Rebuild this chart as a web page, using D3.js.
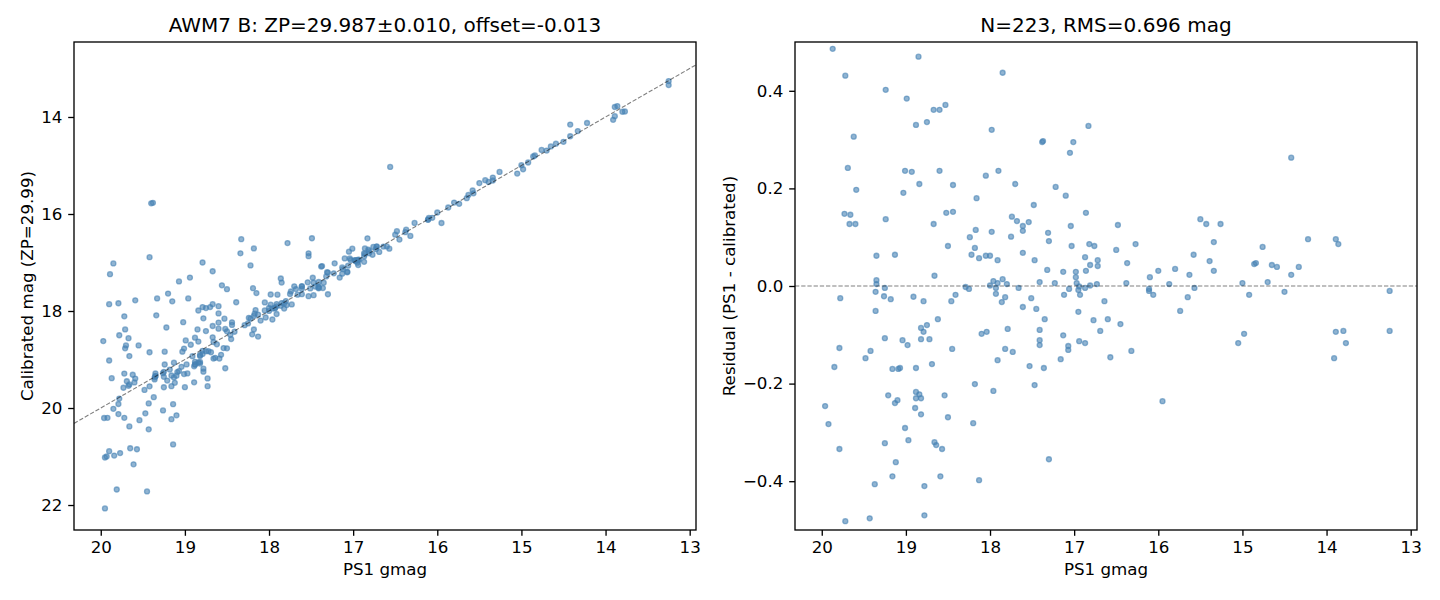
<!DOCTYPE html>
<html>
<head>
<meta charset="utf-8">
<script src="https://cdn.jsdelivr.net/npm/d3@7"></script>
<style>
  body { margin: 0; background: #fff; }
  text { font-family: "DejaVu Sans", sans-serif; fill: #000; }
</style>
</head>
<body>
<div id="chart"></div>
<script>
// Stars close to the zero-point fit: PS1 gmag and residual (PS1 - calibrated)
const inGmag = [
  19.87, 18.85, 19.72, 17.85, 19.24, 18.99, 18.67, 18.60, 18.53, 18.88, 18.75, 17.98, 19.62, 19.69,
  19.01, 18.93, 18.60, 17.90, 18.05, 19.59, 18.84, 18.44, 19.03, 18.16, 19.73, 19.66, 19.67, 19.60,
  19.24, 18.67, 18.52, 18.44, 18.17, 17.98, 18.24, 18.50, 18.18, 18.22, 18.13, 18.05, 18.00, 17.91,
  19.35, 19.13, 18.66, 19.35, 19.35, 19.25, 18.29, 18.00, 17.96, 17.93, 17.91, 17.85,
  18.25, 19.36, 19.26, 19.18, 19.78, 18.91, 18.79, 18.46, 18.41, 17.93, 17.86, 17.82, 19.36, 18.62,
  18.75, 18.82, 18.79, 18.82, 18.72, 19.25, 19.04, 18.98, 19.79, 19.42, 19.48, 18.45, 18.10, 18.04,
  17.82, 17.91, 19.85, 19.16, 19.09, 19.07, 18.88, 18.69, 18.18, 17.96, 19.21, 19.13, 19.10, 18.88,
  18.84, 18.88, 18.82, 18.54, 19.96, 19.92, 18.89, 18.82, 18.50, 18.20, 19.01, 18.97, 19.25, 18.66,
  18.64, 18.57, 19.79, 19.12, 19.16, 18.59, 18.13, 19.37, 18.78, 19.43, 19.72, 18.78,
  16.83, 17.38, 17.37, 17.01, 17.05, 17.70, 17.22, 17.10, 17.48, 16.86, 17.74, 17.68, 17.61, 17.61,
  17.54, 17.04, 16.48, 17.75, 17.31, 17.30, 17.03, 16.82, 16.76, 17.61, 16.50, 16.27, 15.50, 15.43,
  15.58, 15.39, 17.47, 16.87, 16.72, 16.72, 16.81, 16.37, 17.32, 17.13, 16.98, 16.86, 16.98, 16.97,
  17.80, 17.66, 17.41, 17.23, 17.06, 16.94, 16.81, 16.73, 16.38, 16.10, 16.00, 15.80, 15.63, 15.87,
  16.11, 15.57,
  17.51, 17.61, 17.45, 17.35, 17.79, 17.41, 17.41, 17.41, 17.73, 17.53, 17.36, 17.47, 17.30, 17.13,
  17.16, 17.07, 17.07, 17.12, 16.95, 16.93, 16.87, 16.95, 16.77, 16.64, 16.60, 16.69, 16.94, 16.87,
  16.45, 16.57, 16.32, 16.11, 16.06, 15.95, 15.74, 15.65,
  14.42, 15.26, 15.34, 14.76, 14.22, 13.89, 13.86, 15.34, 14.86, 14.84, 14.65, 14.59, 14.33, 14.42,
  15.00, 14.70, 13.25,
  14.92, 14.50, 14.98, 15.05, 13.89, 13.80, 13.77, 13.91, 13.25
];
const inResid = [
  0.486, 0.470, 0.431, 0.437, 0.402, 0.384, 0.361, 0.361, 0.371, 0.330, 0.336, 0.320, 0.306, 0.242,
  0.236, 0.234, 0.236, 0.236, 0.226, 0.197, 0.209, 0.207, 0.191, 0.180, 0.148, 0.146, 0.127, 0.127,
  0.137, 0.127, 0.150, 0.152, 0.115, 0.111, 0.100, 0.082, 0.078, 0.064, 0.057, 0.062, 0.062, 0.053,
  0.062, 0.064, 0.021, 0.012, 0.004, -0.004, -0.002, 0.001, 0.010, -0.004, 0.006, 0.014,
  -0.006, -0.012, -0.021, -0.027, -0.025, -0.022, -0.031, -0.031, -0.018, -0.016, -0.033, -0.023, -0.051, -0.068,
  -0.080, -0.086, -0.094, -0.109, -0.109, -0.107, -0.111, -0.121, -0.127, -0.133, -0.148, -0.129, -0.098, -0.094,
  -0.129, -0.152, -0.166, -0.170, -0.170, -0.168, -0.168, -0.160, -0.201, -0.215, -0.224, -0.240, -0.234, -0.217,
  -0.222, -0.230, -0.230, -0.224, -0.246, -0.283, -0.250, -0.263, -0.269, -0.281, -0.291, -0.316, -0.322, -0.320,
  -0.326, -0.334, -0.334, -0.361, -0.390, -0.390, -0.398, -0.406, -0.410, -0.476, -0.482, -0.470,
  0.328, 0.295, 0.297, 0.295, 0.273, 0.209, 0.203, 0.185, 0.166, 0.150, 0.142, 0.133, 0.123, 0.113,
  0.131, 0.123, 0.125, 0.101, 0.109, 0.092, 0.082, 0.086, 0.082, 0.068, 0.074, 0.086, 0.137, 0.127,
  0.064, 0.051, 0.053, 0.059, 0.053, 0.041, 0.043, 0.047, 0.033, 0.029, 0.029, 0.031, 0.018, 0.006,
  0.004, -0.004, 0.008, 0.006, -0.006, -0.001, 0.001, 0.004, 0.006, 0.018, 0.031, 0.035, 0.023, 0.004,
  -0.006, -0.004,
  -0.025, -0.043, -0.047, -0.068, -0.088, -0.090, -0.111, -0.121, -0.135, -0.164, -0.168, -0.203, -0.355, -0.101,
  -0.150, -0.123, -0.131, -0.018, -0.008, -0.018, -0.004, -0.053, -0.070, -0.031, -0.068, -0.092, -0.113, -0.117,
  -0.078, -0.146, -0.133, -0.010, -0.018, -0.236, -0.051, -0.023,
  0.263, 0.127, 0.090, 0.080, 0.096, 0.096, 0.086, 0.031, 0.045, 0.047, 0.043, 0.039, 0.039, 0.023,
  0.006, 0.008, -0.010,
  -0.018, -0.012, -0.098, -0.117, -0.094, -0.092, -0.117, -0.148, -0.092
];

// Stars far from the fit (off the residual panel): PS1 gmag and calibrated mag
const outGmag = [
  19.40, 19.38, 19.42, 19.85, 19.89, 18.79, 18.67, 19.07, 18.94, 18.56, 18.50, 19.20, 19.90, 19.79,
  19.59, 19.33, 19.15, 18.96, 18.39, 18.84, 18.79, 18.75, 18.70, 18.67, 18.60, 19.72, 19.34, 19.02,
  18.78, 18.60, 19.22, 19.71, 19.78, 19.67, 19.97, 19.70, 19.71, 19.55, 19.66, 19.42, 19.90,
  19.66, 19.54, 19.47, 19.43, 19.26, 19.14, 19.16, 19.10, 19.95, 19.93, 19.90, 19.84, 19.77, 19.65,
  19.57, 19.61, 19.81, 19.45, 19.95, 19.14, 19.00, 18.89, 18.73, 18.73, 18.52,
  18.33, 18.34, 18.18, 18.22, 17.78, 17.49, 17.53, 17.53, 18.19, 18.15, 17.86, 16.56
];
const outCal = [
  15.78, 15.77, 16.89, 17.02, 17.24, 17.00, 17.18, 17.39, 17.31, 17.47, 17.55, 17.64, 17.86, 17.84,
  17.78, 17.74, 17.80, 17.74, 17.82, 17.99, 17.92, 17.94, 17.92, 17.86, 17.90, 18.11, 18.09, 18.23,
  18.15, 18.05, 18.34, 18.38, 18.50, 18.56, 18.62, 18.71, 18.77, 18.71, 18.93, 18.85, 19.02,
  20.38, 20.25, 20.11, 20.44, 20.05, 19.92, 20.23, 20.15, 21.02, 21.00, 20.89, 20.98, 20.93, 20.83,
  20.85, 21.16, 21.68, 21.72, 22.07, 20.75, 19.57, 19.47, 19.55, 19.39, 19.18,
  16.52, 16.81, 16.71, 17.06, 16.60, 16.50, 16.81, 16.87, 17.53, 17.63, 17.33, 15.03
];

const xTicks = [20, 19, 18, 17, 16, 15, 14, 13];
const calTicks = [14, 16, 18, 20, 22];
const resTicks = [-0.4, -0.2, 0.0, 0.2, 0.4];

const titleLeft = "AWM7 B: ZP=29.987\u00b10.010, offset=-0.013";
const titleRight = "N=223, RMS=0.696 mag";

// combine both lists into one star table
const stars = inGmag.map((g, i) => ({ g: g, cal: g - inResid[i], res: inResid[i] }))
  .concat(outGmag.map((g, i) => ({ g: g, cal: outCal[i], res: g - outCal[i] })));

const width = 1440, height = 600;
const panels = [
  { left: 74, right: 696, key: "cal", domain: [12.454, 22.515], ticks: calTicks, fmt: d3.format("d"),
    title: titleLeft, ylabel: "Calibrated mag (ZP=29.99)", ylabelX: 33 },
  { left: 795, right: 1417, key: "res", domain: [-0.5, 0.5], ticks: resTicks, fmt: d3.format(".1f"),
    title: titleRight, ylabel: "Residual (PS1 - calibrated)", ylabelX: 735 }
];
const plotTop = 42, plotBottom = 530;
const tickLen = 5.8, tickPad = 5.8;
const pointColor = "steelblue";

const svg = d3.select("#chart")
  .append("svg")
    .attr("width", width)
    .attr("height", height);

panels.forEach((p, k) => {
  const xScale = d3.scaleLinear().domain([20.318, 12.925]).range([p.left, p.right]);
  const yScale = p.key === "cal"
    ? d3.scaleLinear().domain(p.domain).range([plotTop, plotBottom])
    : d3.scaleLinear().domain(p.domain).range([plotBottom, plotTop]);

  svg.append("clipPath")
      .attr("id", "clip" + k)
    .append("rect")
      .attr("x", p.left)
      .attr("y", plotTop)
      .attr("width", p.right - p.left)
      .attr("height", plotBottom - plotTop);

  // scatter of stars
  svg.append("g")
      .attr("clip-path", "url(#clip" + k + ")")
    .selectAll("circle")
    .data(stars)
    .enter()
    .append("circle")
      .attr("cx", d => xScale(d.g))
      .attr("cy", d => yScale(d[p.key]))
      .attr("r", 2.5)
      .style("fill", pointColor)
      .style("fill-opacity", 0.6)
      .style("stroke", pointColor)
      .style("stroke-opacity", 0.6)
      .style("stroke-width", 1.3);

  // reference line: y = x on the left, zero on the right
  const ref = svg.append("line")
      .attr("clip-path", "url(#clip" + k + ")")
      .style("stroke", "#000")
      .style("stroke-opacity", 0.5)
      .style("stroke-width", 1.1)
      .style("stroke-dasharray", "4.3,1.9");
  if (p.key === "cal") {
    const [x0, x1] = xScale.domain();
    ref.attr("x1", xScale(x0)).attr("y1", yScale(x0))
       .attr("x2", xScale(x1)).attr("y2", yScale(x1));
  } else {
    ref.attr("x1", p.left).attr("y1", yScale(0))
       .attr("x2", p.right).attr("y2", yScale(0));
  }

  // X axis
  const xAxis = svg.append("g")
      .attr("transform", "translate(0," + plotBottom + ")")
      .call(d3.axisBottom(xScale).tickValues(xTicks).tickFormat(d3.format("d"))
        .tickSize(tickLen).tickPadding(tickPad));
  xAxis.select(".domain").remove();

  // Y axis
  const yAxis = svg.append("g")
      .attr("transform", "translate(" + p.left + ",0)")
      .call(d3.axisLeft(yScale).tickValues(p.ticks).tickFormat(p.fmt)
        .tickSize(tickLen).tickPadding(tickPad));
  yAxis.select(".domain").remove();

  svg.selectAll(".tick line").style("stroke", "#000").style("stroke-width", 1.33);
  svg.selectAll(".tick text")
      .style("font-family", "DejaVu Sans")
      .style("font-size", "16.7px")
      .style("fill", "#000");

  // axes frame
  svg.append("rect")
      .attr("x", p.left)
      .attr("y", plotTop)
      .attr("width", p.right - p.left)
      .attr("height", plotBottom - plotTop)
      .style("fill", "none")
      .style("stroke", "#000")
      .style("stroke-width", 1.33);

  // labels and title
  svg.append("text")
      .attr("x", (p.left + p.right) / 2)
      .attr("y", 32)
      .attr("text-anchor", "middle")
      .style("font-size", "20px")
      .text(p.title);

  svg.append("text")
      .attr("x", (p.left + p.right) / 2)
      .attr("y", 575)
      .attr("text-anchor", "middle")
      .style("font-size", "16.7px")
      .text("PS1 gmag");

  svg.append("text")
      .attr("transform", "translate(" + p.ylabelX + "," + (plotTop + plotBottom) / 2 + ") rotate(-90)")
      .attr("text-anchor", "middle")
      .style("font-size", "16.7px")
      .text(p.ylabel);
});
</script>
</body>
</html>
